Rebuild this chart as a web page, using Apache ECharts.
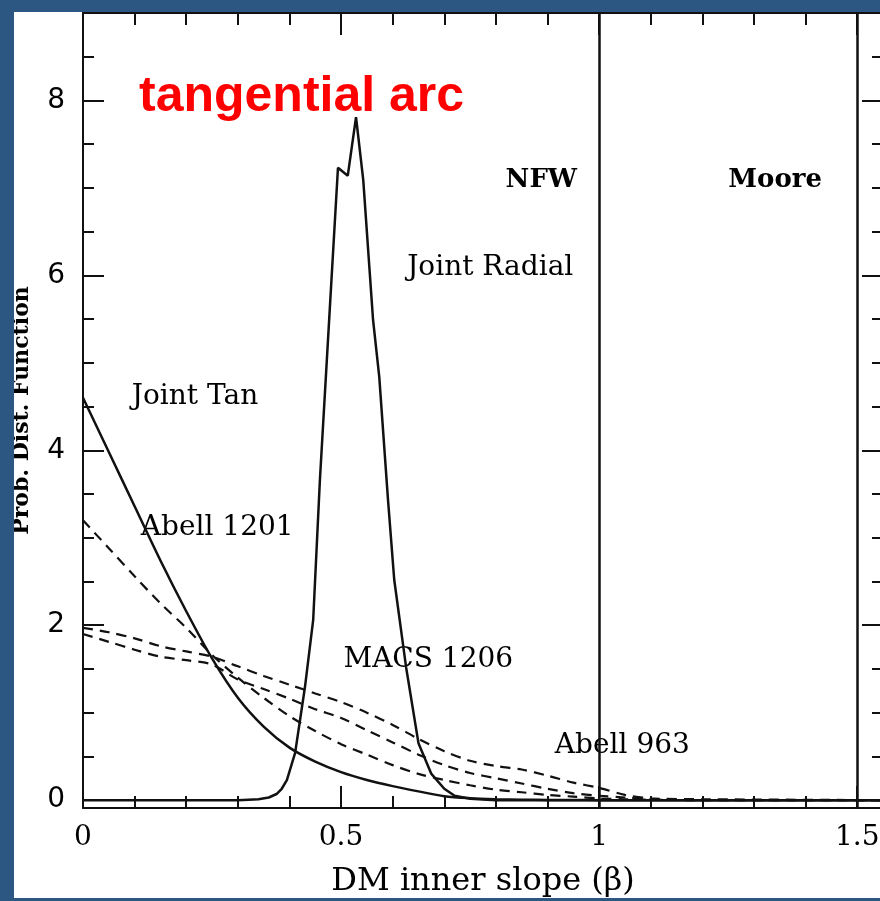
<!DOCTYPE html>
<html>
<head>
<meta charset="utf-8">
<script src="https://cdn.jsdelivr.net/npm/echarts@6/dist/echarts.min.js"></script>
<style>
  html, body { margin: 0; padding: 0; background: #2c5783; }
  #chart { position: absolute; left: 14px; top: 12px; width: 866px; height: 886px; background: #ffffff; }
</style>
</head>
<body>
<div id="chart"></div>
<script>
// beta grid shared by Joint Tan and the three cluster curves
var betaGrid = [0, 0.05, 0.1, 0.15, 0.2, 0.25, 0.3, 0.35, 0.4, 0.45, 0.5, 0.55, 0.6, 0.65, 0.7, 0.75, 0.8, 0.85, 0.9, 0.95, 1.0, 1.05, 1.1, 1.2, 1.55];
var jointTan  = [4.6, 3.98, 3.36, 2.74, 2.16, 1.62, 1.17, 0.84, 0.6, 0.44, 0.32, 0.23, 0.16, 0.1, 0.045, 0.022, 0.011, 0.005, 0.002, 0.001, 0, 0, 0, 0, 0];
var abell1201 = [3.2, 2.88, 2.56, 2.25, 1.97, 1.66, 1.4, 1.17, 0.96, 0.79, 0.64, 0.52, 0.4, 0.3, 0.23, 0.17, 0.12, 0.09, 0.06, 0.04, 0.02, 0.01, 0.005, 0, 0];
var macs1206  = [1.9, 1.81, 1.72, 1.64, 1.6, 1.55, 1.38, 1.27, 1.16, 1.04, 0.94, 0.8, 0.66, 0.52, 0.4, 0.31, 0.25, 0.19, 0.13, 0.08, 0.05, 0.03, 0.01, 0, 0];
var abell963  = [1.97, 1.92, 1.85, 1.76, 1.7, 1.64, 1.53, 1.42, 1.32, 1.22, 1.12, 1.0, 0.86, 0.7, 0.56, 0.45, 0.39, 0.35, 0.28, 0.2, 0.14, 0.06, 0.02, 0.01, 0];

// Joint Radial has its own sampling (sharp peak)
var radialBeta = [0, 0.3, 0.34, 0.36, 0.375, 0.385, 0.395, 0.411, 0.43, 0.446, 0.459, 0.477, 0.494, 0.513, 0.529, 0.543, 0.562, 0.574, 0.591, 0.603, 0.626, 0.65, 0.675, 0.7, 0.72, 0.75, 0.8, 1.55];
var jointRadial = [0, 0, 0.01, 0.03, 0.07, 0.13, 0.23, 0.54, 1.29, 2.06, 3.66, 5.5, 7.23, 7.14, 7.81, 7.09, 5.49, 4.84, 3.43, 2.52, 1.52, 0.65, 0.3, 0.13, 0.05, 0.015, 0, 0];

// NFW / Moore inner slopes
var profileSlopes = [1, 1.5];

// ticks
var xTickLabels = [0, 0.5, 1, 1.5];
var xMinorTicks = [0, 0.1, 0.2, 0.3, 0.4, 0.5, 0.6, 0.7, 0.8, 0.9, 1.0, 1.1, 1.2, 1.3, 1.4, 1.5];
var yTickLabels = [0, 2, 4, 6, 8];
var yMinorTicks = [0, 0.5, 1, 1.5, 2, 2.5, 3, 3.5, 4, 4.5, 5, 5.5, 6, 6.5, 7, 7.5, 8, 8.5, 9];

// text annotations (beta, pdf, text)
var noteBeta = [0.217, 0.26, 0.789, 0.669, 1.045, 0.888, 1.341];
var notePdf  = [4.61, 3.11, 6.09, 1.6, 0.62, 7.09, 7.09];
var noteText = ['Joint Tan', 'Abell 1201', 'Joint Radial', 'MACS 1206', 'Abell 963', 'NFW', 'Moore'];
var noteBold = ['NFW', 'Moore'];

function zip(xs, ys) {
    var out = [];
    for (var i = 0; i < xs.length; i++) out.push([xs[i], ys[i]]);
    return out;
}

var ink = '#111';
var serif = '"DejaVu Serif", serif';
var X_MIN = 0, X_MAX = 1.55, Y_MIN = -0.09, Y_MAX = 9;

function xAx(pos, ticks, len, main) {
    return {
        type: 'value', position: pos, min: X_MIN, max: X_MAX,
        axisLine: { show: main, onZero: false, lineStyle: { color: ink, width: 2 } },
        axisTick: { show: true, inside: true, length: len, customValues: ticks, lineStyle: { color: ink, width: 2 } },
        axisLabel: (main && pos === 'bottom') ? { show: true, customValues: xTickLabels, margin: 16, color: '#000', fontFamily: serif, fontSize: 28 } : { show: false },
        splitLine: { show: false },
        name: (main && pos === 'bottom') ? 'DM inner slope (\u03b2)' : '',
        nameLocation: 'middle', nameGap: 58,
        nameTextStyle: { color: '#000', fontFamily: serif, fontSize: 32 }
    };
}
function yAx(pos, ticks, len, main) {
    return {
        type: 'value', position: pos, min: Y_MIN, max: Y_MAX,
        axisLine: { show: main, onZero: false, lineStyle: { color: ink, width: 2 } },
        axisTick: { show: true, inside: true, length: len, customValues: ticks, lineStyle: { color: ink, width: 2 } },
        axisLabel: (main && pos === 'left') ? { show: true, customValues: yTickLabels, margin: 18, color: '#000', fontFamily: '"DejaVu Sans", sans-serif', fontSize: 28 } : { show: false },
        splitLine: { show: false },
        name: (main && pos === 'left') ? 'Prob. Dist. Function' : '',
        nameLocation: 'middle', nameGap: 50,
        nameTextStyle: { color: '#000', fontFamily: serif, fontWeight: 'bold', fontSize: 22 }
    };
}

var myChart = echarts.init(document.getElementById('chart'));

var solid = { color: ink, width: 2.5 };
var dashed = { color: ink, width: 2.2, type: [10, 7] };

var option = {
    animation: false,
    title: {
        text: 'tangential arc', left: 120, top: 55,
        textStyle: { color: '#ff0000', fontFamily: '"Liberation Sans", Arial, sans-serif', fontWeight: 'bold', fontSize: 50 }
    },
    grid: { left: 69, top: 1, right: -3, bottom: 90, outerBoundsMode: 'none', containLabel: false },
    xAxis: [
        xAx('bottom', xTickLabels, 22, true),
        xAx('bottom', xMinorTicks, 12, false),
        xAx('top', xTickLabels, 22, true),
        xAx('top', xMinorTicks, 12, false)
    ],
    yAxis: [
        yAx('left', yTickLabels, 21, true),
        yAx('left', yMinorTicks, 11, false),
        yAx('right', yTickLabels, 21, true),
        yAx('right', yMinorTicks, 11, false)
    ],
    series: [
        {
            name: 'Joint Tan', type: 'line', data: zip(betaGrid, jointTan), smooth: 0.3,
            symbol: 'none', lineStyle: solid,
            markLine: {
                silent: true, symbol: ['none', 'none'], label: { show: false },
                lineStyle: { color: ink, width: 2.5, type: 'solid' },
                data: profileSlopes.map(function (b) { return { xAxis: b }; })
            }
        },
        { name: 'Joint Radial', type: 'line', data: zip(radialBeta, jointRadial), symbol: 'none', lineStyle: solid },
        { name: 'Abell 1201', type: 'line', data: zip(betaGrid, abell1201), smooth: 0.3, symbol: 'none', lineStyle: dashed },
        { name: 'MACS 1206', type: 'line', data: zip(betaGrid, macs1206), smooth: 0.3, symbol: 'none', lineStyle: dashed },
        { name: 'Abell 963', type: 'line', data: zip(betaGrid, abell963), smooth: 0.3, symbol: 'none', lineStyle: dashed },
        {
            name: 'notes', type: 'scatter', symbolSize: 0, silent: true,
            itemStyle: { opacity: 1 },
            data: noteText.map(function (t, i) {
                var bold = noteBold.indexOf(t) >= 0;
                return {
                    value: [noteBeta[i], notePdf[i]],
                    label: {
                        show: true, position: 'inside', formatter: t,
                        color: '#000', opacity: 1, fontFamily: serif,
                        fontSize: bold ? 26 : 28,
                        fontWeight: bold ? 'bold' : 'normal'
                    }
                };
            })
        }
    ]
};

myChart.setOption(option);
</script>
</body>
</html>
